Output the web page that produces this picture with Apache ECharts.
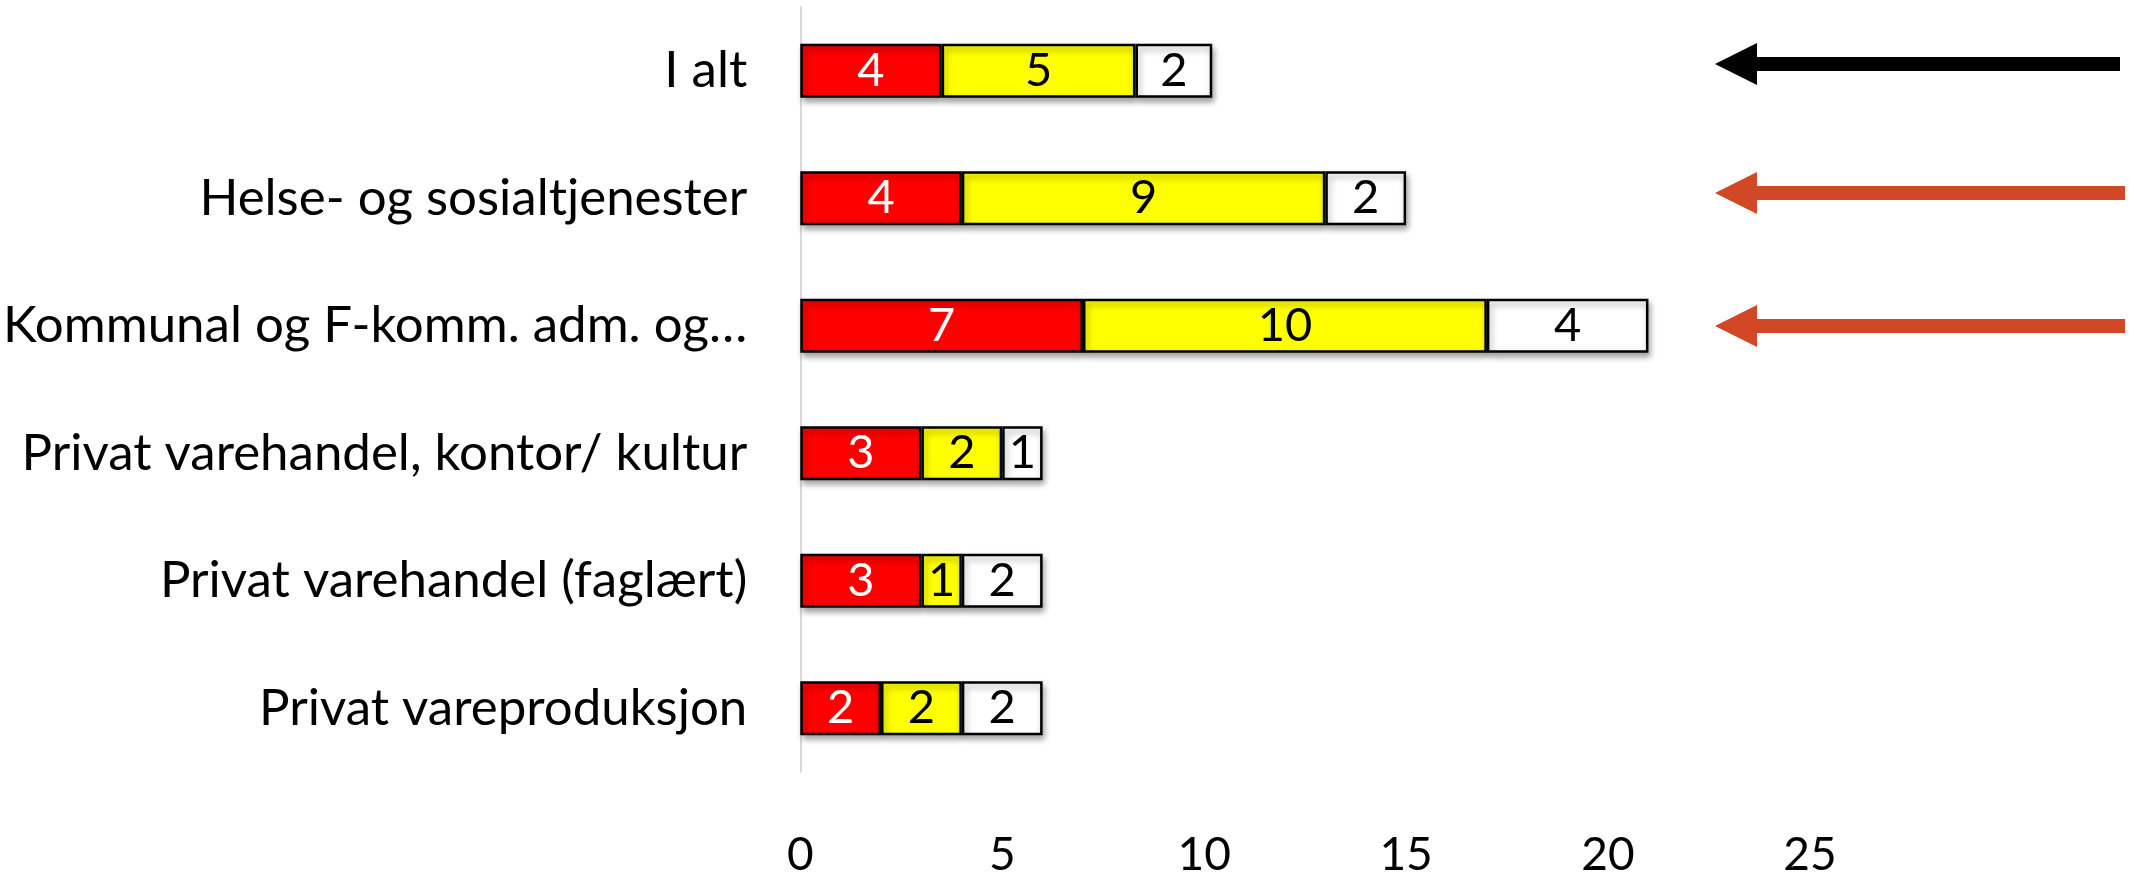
<!DOCTYPE html>
<html>
<head>
<meta charset="utf-8">
<script src="https://cdn.jsdelivr.net/npm/echarts@6/dist/echarts.min.js"></script>
<style>html,body{margin:0;padding:0;background:#fff}#c{width:2129px;height:878px}</style>
</head>
<body>
<div id="c"></div>
<script>
var categories = ['I alt', 'Helse- og sosialtjenester', 'Kommunal og F-komm. adm. og…', 'Privat varehandel, kontor/ kultur', 'Privat varehandel (faglært)', 'Privat vareproduksjon'];
var redValues = [3.5, 4, 7, 3, 3, 2];
var yellowValues = [4.8, 9, 10, 2, 1, 2];
var whiteValues = [1.9, 2, 4, 1, 2, 2];
var xTicks = [0, 5, 10, 15, 20, 25];

var FONT = 'Lato';
var chart = echarts.init(document.getElementById('c'));

function seg(name, data, color, labelColor) {
  return {
    name: name, type: 'bar', stack: 'total', data: data, barWidth: 54,
    itemStyle: { color: color, borderColor: '#000', borderWidth: 2.5,
      shadowColor: 'rgba(0,0,0,0.35)', shadowBlur: 6, shadowOffsetX: 2, shadowOffsetY: 4 },
    label: { show: true, position: 'inside', color: labelColor, fontFamily: FONT, fontSize: 47,
      formatter: function (p) { return Math.round(p.value); } },
    emphasis: { disabled: true }, animation: false
  };
}

var arrowRed = '#D24726';
function arrow(yc, x2, color) {
  return {
    type: 'group', children: [
      { type: 'rect', shape: { x: 1755, y: yc - 7, width: x2 - 1755, height: 14 }, style: { fill: color } },
      { type: 'polygon', shape: { points: [[1715, yc], [1757, yc - 21], [1757, yc + 21]] }, style: { fill: color } }
    ]
  };
}

chart.setOption({
  animation: false,
  grid: { left: 800, right: 319, top: 7, bottom: 91, containLabel: false },
  xAxis: {
    type: 'value', min: 0, max: 25, interval: 5,
    axisLine: { show: false }, axisTick: { show: false }, splitLine: { show: false },
    axisLabel: { color: '#000', fontFamily: FONT, fontSize: 46, margin: 60,
      formatter: function (v) { return xTicks.indexOf(v) >= 0 ? String(v) : ''; } }
  },
  yAxis: {
    type: 'category', data: categories, inverse: true,
    axisLine: { show: true, lineStyle: { color: '#d9d9d9', width: 2 } },
    axisTick: { show: false },
    axisLabel: { color: '#000', fontFamily: FONT, fontSize: 51, margin: 53 }
  },
  series: [
    seg('Rød', redValues, '#FF0000', '#fff'),
    seg('Gul', yellowValues, '#FFFF00', '#000'),
    seg('Hvit', whiteValues, '#FFFFFF', '#000')
  ],
  graphic: [
    arrow(64, 2120, '#000'),
    arrow(193, 2125, arrowRed),
    arrow(326, 2125, arrowRed)
  ]
});
</script>
</body>
</html>
